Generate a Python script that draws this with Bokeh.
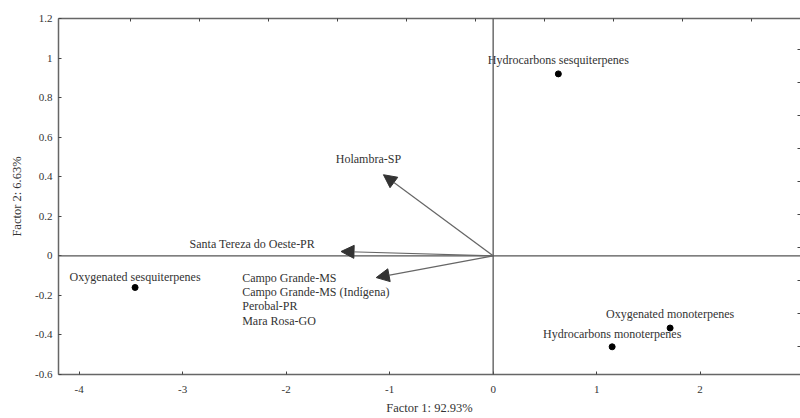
from bokeh.plotting import figure
from bokeh.models import (Arrow, NormalHead, LinearAxis, FixedTicker, Span,
                          ColumnDataSource, Range1d)
from bokeh.core.properties import value
from bokeh.embed import file_html
from bokeh.resources import INLINE

# ---- data ----
var_names = ["Hydrocarbons sesquiterpenes", "Oxygenated sesquiterpenes",
             "Oxygenated monoterpenes", "Hydrocarbons monoterpenes"]
var_f1 = [0.63, -3.46, 1.71, 1.15]
var_f2 = [0.92, -0.16, -0.365, -0.46]

site_groups = ["Holambra-SP", "Santa Tereza do Oeste-PR",
               "Campo Grande-MS"]
arrow_f1 = [-1.06, -1.47, -1.13]
arrow_f2 = [0.41, 0.022, -0.11]
group_members = ["Campo Grande-MS", "Campo Grande-MS (Indígena)",
                 "Perobal-PR", "Mara Rosa-GO"]

x_ticks = [-4, -3, -2, -1, 0, 1, 2]
x_tick_labels = ["-4", "-3", "-2", "-1", "0", "1", "2"]
y_ticks = [-0.6, -0.4, -0.2, 0, 0.2, 0.4, 0.6, 0.8, 1.0, 1.2]
y_tick_labels = ["-0.6", "-0.4", "-0.2", "0", "0.2", "0.4", "0.6", "0.8", "1", "1.2"]
top_ticks = [-3.5, -2.8333, -2.1667, -1.5, -0.8333, -0.1667, 0.5, 1.1667, 1.8333, 2.5]
right_ticks = [-0.4583, -0.2917, -0.125, 0.0417, 0.2083, 0.375, 0.5417, 0.7083, 0.875, 1.0417]

x_label = "Factor 1: 92.93%"
y_label = "Factor 2: 6.63%"

FONT = "'Times New Roman', 'Liberation Serif', 'DejaVu Serif', serif"
TXT = "#333333"
LINE = "#666666"

p = figure(x_range=Range1d(-4.2, 2.97), y_range=Range1d(-0.6, 1.2),
           width=800, height=418,
           min_border_left=58, min_border_right=0, min_border_top=18,
           min_border_bottom=44,
           output_backend="svg", toolbar_location=None)
p.outline_line_color = None
p.grid.visible = False
p.background_fill_color = "white"
p.border_fill_color = "white"

def style_axis(ax, show_line=True):
    ax.major_tick_in = 3
    ax.major_tick_out = 0
    ax.minor_tick_line_color = None
    ax.major_tick_line_color = "#444444"
    ax.major_tick_line_width = 1
    ax.axis_line_color = LINE if show_line else None
    ax.axis_line_width = 1.5
    ax.major_label_text_font = FONT
    ax.major_label_text_font_size = "11px"
    ax.major_label_text_color = TXT
    ax.axis_label_text_font = FONT
    ax.axis_label_text_font_size = "12.5px"
    ax.axis_label_text_font_style = "normal"
    ax.axis_label_text_color = TXT

# main axes
xa = p.xaxis[0]
xa.ticker = FixedTicker(ticks=x_ticks)
xa.major_label_overrides = {t: s for t, s in zip(x_ticks, x_tick_labels)}
xa.axis_label = x_label
style_axis(xa)
xa.major_label_standoff = 11
xa.axis_label_standoff = 5

ya = p.yaxis[0]
ya.ticker = FixedTicker(ticks=y_ticks)
ya.major_label_overrides = {t: s for t, s in zip(y_ticks, y_tick_labels)}
ya.axis_label = y_label
style_axis(ya)
ya.major_label_standoff = 6
ya.axis_label_standoff = 8

# secondary frame axes (ticks only, blank labels)
top = LinearAxis(ticker=FixedTicker(ticks=top_ticks))
style_axis(top)
top.major_label_overrides = {t: "" for t in top_ticks}
top.major_label_standoff = 0
p.add_layout(top, "above")

right = LinearAxis(ticker=FixedTicker(ticks=right_ticks))
style_axis(right, show_line=False)
right.major_label_overrides = {t: "" for t in right_ticks}
right.major_label_standoff = 0
p.add_layout(right, "right")

# zero lines
p.add_layout(Span(location=0, dimension="width", line_color="#555555", line_width=1.3))
p.add_layout(Span(location=0, dimension="height", line_color="#555555", line_width=1.3))

# arrows for sites
for xe, ye in zip(arrow_f1, arrow_f2):
    p.add_layout(Arrow(end=NormalHead(size=13, fill_color="#333333",
                                      line_color="#333333", line_width=1),
                       x_start=0, y_start=0, x_end=xe, y_end=ye,
                       line_color="#666666", line_width=1.2))

TS = "12px"
# site labels
p.text(x=[arrow_f1[0]], y=[arrow_f2[0]], text=[site_groups[0]],
       x_offset=-15, y_offset=-16, text_align="center", text_baseline="middle",
       text_font=value(FONT), text_font_size=TS, text_color=TXT)
p.text(x=[arrow_f1[1]], y=[arrow_f2[1]], text=[site_groups[1]],
       x_offset=-26, y_offset=-7, text_align="right", text_baseline="middle",
       text_font=value(FONT), text_font_size=TS, text_color=TXT)
grp = ColumnDataSource(dict(x=[arrow_f1[2]] * len(group_members),
                            y=[arrow_f2[2]] * len(group_members),
                            t=group_members,
                            yo=[0, 14.5, 28.7, 43]))
p.text(x="x", y="y", text="t", source=grp, x_offset=-134, y_offset="yo",
       text_align="left", text_baseline="middle",
       text_font=value(FONT), text_font_size=TS, text_color=TXT)

# variable points
p.scatter(var_f1, var_f2, size=6, color="black")
vsrc = ColumnDataSource(dict(x=var_f1, y=var_f2, t=var_names,
                             yo=[-13.5, -10.5, -14, -13]))
p.text(x="x", y="y", text="t", source=vsrc, y_offset="yo",
       text_align="center", text_baseline="middle",
       text_font=value(FONT), text_font_size=TS, text_color=TXT)

open("out.html", "w").write(file_html(p, INLINE))
